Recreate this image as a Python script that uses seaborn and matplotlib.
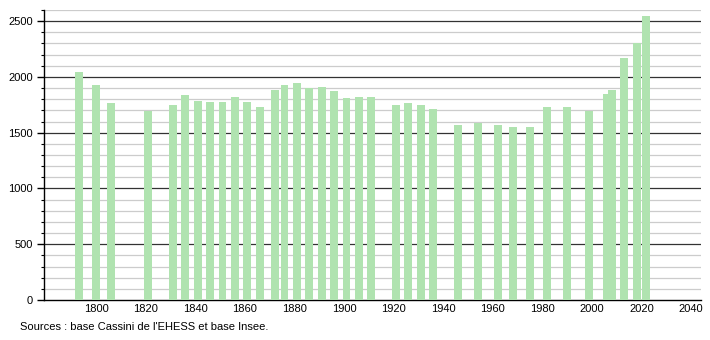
import matplotlib
matplotlib.use("Agg")
import matplotlib.pyplot as plt
import seaborn as sns
import pandas as pd
from matplotlib.ticker import MultipleLocator

years = [1793, 1800, 1806, 1821, 1831, 1836, 1841, 1846, 1851, 1856, 1861, 1866,
         1872, 1876, 1881, 1886, 1891, 1896, 1901, 1906, 1911, 1921, 1926, 1931,
         1936, 1946, 1954, 1962, 1968, 1975, 1982, 1990, 1999, 2006, 2008, 2013,
         2018, 2022]
population = [2040, 1924, 1763, 1697, 1745, 1835, 1781, 1772, 1772, 1817, 1772, 1727,
              1880, 1930, 1942, 1897, 1906, 1871, 1808, 1817, 1817, 1751, 1769, 1751,
              1709, 1571, 1583, 1565, 1547, 1547, 1727, 1733, 1694, 1850, 1880, 2173,
              2308, 2548]
x_ticks = [1800, 1820, 1840, 1860, 1880, 1900, 1920, 1940, 1960, 1980, 2000, 2020, 2040]
y_ticks = [0, 500, 1000, 1500, 2000, 2500]
source_text = "Sources : base Cassini de l'EHESS et base Insee."

df = pd.DataFrame({"year": years, "pop": population})

sns.set_style("white")
plt.rcParams["font.family"] = ["Liberation Sans", "DejaVu Sans"]
plt.rcParams["text.color"] = "black"
plt.rcParams["xtick.color"] = "black"
plt.rcParams["ytick.color"] = "black"
plt.rcParams["axes.labelcolor"] = "black"

fig = plt.figure(figsize=(7.1, 3.4), dpi=100)
ax = fig.add_axes([44 / 710, 40 / 340, (701 - 44) / 710, 290 / 340])

sns.barplot(data=df, x="year", y="pop", native_scale=True, width=1.6,
            color="#b0e3b0", saturation=1, edgecolor="none", linewidth=0,
            ax=ax, zorder=3, errorbar=None)

ax.set_xlim(1779, 2044)
ax.set_ylim(0, 2600)
ax.set_xticks(x_ticks)
ax.set_yticks(y_ticks)
ax.yaxis.set_minor_locator(MultipleLocator(100))
ax.grid(False)
for v in range(100, 2700, 100):
    if v % 500 == 0:
        ax.axhline(v, color="#333333", lw=0.9, zorder=1)
    else:
        ax.axhline(v, color="#cccccc", lw=0.9, zorder=0.5)

for side in ["top", "right"]:
    ax.spines[side].set_visible(False)
ax.spines["left"].set_color("black")
ax.spines["bottom"].set_color("black")
ax.spines["left"].set_linewidth(1)
ax.spines["bottom"].set_linewidth(1)

ax.tick_params(axis="y", which="major", length=5, width=1, colors="black",
               labelsize=8, pad=3, left=True)
ax.tick_params(axis="y", which="minor", length=2.5, width=0.8, colors="black", left=True)
ax.tick_params(axis="x", which="both", length=0, labelsize=8, pad=3, colors="black")
ax.set_xlabel("")
ax.set_ylabel("")
ax.set_xticklabels([str(t) for t in x_ticks])

fig.text(20 / 710, 1 - 327 / 340, source_text, fontsize=8, va="center", ha="left",
         color="black")

fig.savefig("out.png", dpi=100)
